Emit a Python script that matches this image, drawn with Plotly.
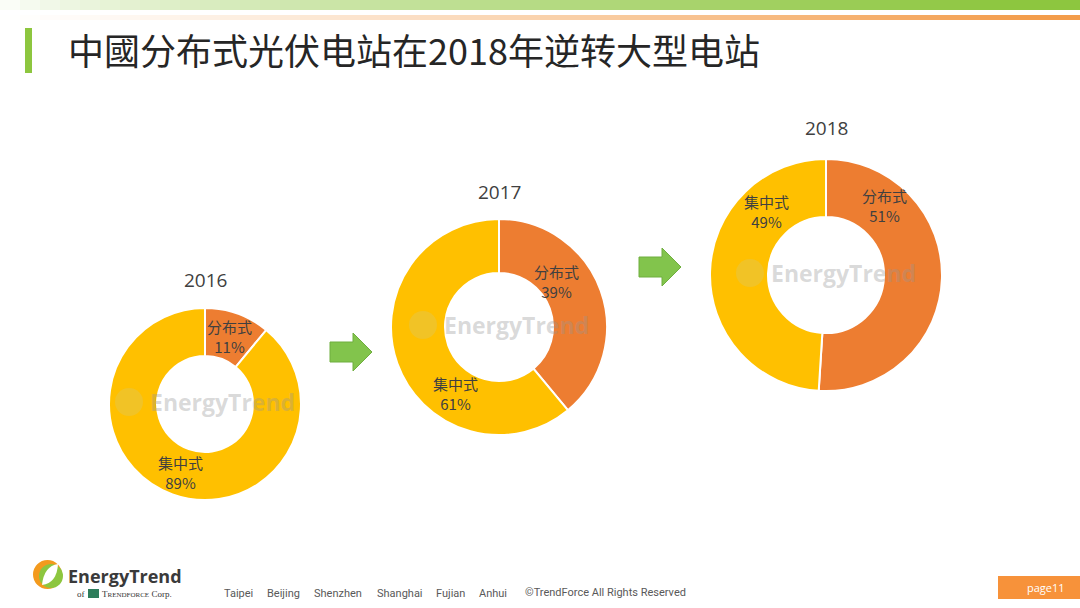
import plotly.graph_objects as go

# ---------------- data ----------------
years = ["2016", "2017", "2018"]
share_distributed = [11, 39, 51]   # 分布式
share_central = [89, 61, 49]       # 集中式
slice_labels = ["分布式", "集中式"]
slice_colors = ["#ED7D31", "#FFC000"]
title_text = "中國分布式光伏电站在2018年逆转大型电站"
cities = ["Taipei", "Beijing", "Shenzhen", "Shanghai", "Fujian", "Anhui"]

# ---------------- layout helpers (pixels) ----------------
W, H = 1080, 608
def px(x): return x / W
def py(y): return 1 - y / H

# donut geometry in pixels: centre x, centre y, outer radius
donut_geom = [(205, 404, 96), (499, 327, 108), (826, 275, 116)]
hole = 0.5
title_offset = [124, 135, 147]
# label placement (offset from donut centre, pixels) for [分布式, 集中式]
label_offsets = [[(24, -68), (-25, 68)],
                 [(57, -46), (-44, 66)],
                 [(58, -70), (-60, -64)]]
city_x = [222, 265, 312, 375, 434, 477]

fig = go.Figure()
annotations = []
shapes = []

for i, yr in enumerate(years):
    cx, cy, r = donut_geom[i]
    vals = [share_distributed[i], share_central[i]]
    fig.add_trace(go.Pie(
        values=vals, labels=slice_labels, sort=False, direction="clockwise",
        rotation=0, hole=hole, textinfo="none", hoverinfo="label+percent",
        marker=dict(colors=slice_colors, line=dict(color="white", width=2)),
        domain=dict(x=[px(cx - r), px(cx + r)], y=[py(cy + r), py(cy - r)]),
        showlegend=False,
    ))
    # watermark
    annotations.append(dict(
        x=px(cx + 17), y=py(cy - 2), xref="paper", yref="paper", showarrow=False,
        text="<b>EnergyTrend</b>", xanchor="center", yanchor="middle",
        font=dict(family="Open Sans", size=23, color="rgba(150,150,150,0.36)"),
    ))
    shapes.append(dict(
        type="circle", xref="paper", yref="paper",
        x0=px(cx - 90), x1=px(cx - 62), y0=py(cy + 12), y1=py(cy - 16),
        fillcolor="rgba(215,200,110,0.35)", line=dict(width=0), layer="above",
    ))
    # data labels
    total = sum(vals)
    for lab, v, (dx, dy) in zip(slice_labels, vals, label_offsets[i]):
        annotations.append(dict(
            x=px(cx + dx), y=py(cy + dy), xref="paper", yref="paper", showarrow=False,
            text=f"{lab}<br>{round(v / total * 100)}%", align="center",
            font=dict(family="Noto Sans CJK SC", size=15, color="#404040"),
            xanchor="center", yanchor="middle",
        ))
    # year title
    annotations.append(dict(
        x=px(cx), y=py(cy - title_offset[i]), xref="paper", yref="paper",
        showarrow=False, text=yr, xanchor="center", yanchor="middle",
        font=dict(family="Open Sans", size=19, color="#404040"),
    ))

# ---------------- arrows ----------------
arrow_pos = [(351, 352), (660, 267)]
arrow_pts = [(-21, -10), (2, -10), (2, -19), (21, 0), (2, 19), (2, 10), (-21, 10)]
for ax, ay in arrow_pos:
    path = "M " + " L ".join(f"{px(ax + dx)},{py(ay + dy)}" for dx, dy in arrow_pts) + " Z"
    shapes.append(dict(type="path", xref="paper", yref="paper", path=path,
                       fillcolor="#82C44C", line=dict(color="#6FAE3E", width=1)))

# ---------------- top gradient stripes ----------------
def mix(c, t):
    return "rgb(%d,%d,%d)" % tuple(round(255 + (ch - 255) * t) for ch in c)

n = 54
for k in range(n):
    x0, x1 = k * W / n, (k + 1) * W / n + 0.5
    t = (k + 0.5) / n
    shapes.append(dict(type="rect", xref="paper", yref="paper",
                       x0=px(x0), x1=px(x1), y0=py(10), y1=py(0),
                       fillcolor=mix((141, 198, 63), min(1, t ** 0.7 * 1.05)),
                       line=dict(width=0)))
    shapes.append(dict(type="rect", xref="paper", yref="paper",
                       x0=px(x0), x1=px(x1), y0=py(20), y1=py(15),
                       fillcolor=mix((243, 156, 74), min(1, t ** 1.2 * 1.05)),
                       line=dict(width=0)))

# left green bar
shapes.append(dict(type="rect", xref="paper", yref="paper",
                   x0=px(25), x1=px(32), y0=py(73), y1=py(28),
                   fillcolor="#8DC63F", line=dict(width=0)))

# title
annotations.append(dict(
    x=px(66), y=py(49), xref="paper", yref="paper", showarrow=False,
    text=title_text, xanchor="left", yanchor="middle",
    font=dict(family="Noto Sans CJK SC", size=36, color="#262626"),
))

# ---------------- footer ----------------
shapes.append(dict(type="circle", xref="paper", yref="paper",
                   x0=px(33), x1=px(62), y0=py(589), y1=py(560),
                   fillcolor="#F39A1E", line=dict(width=0)))
shapes.append(dict(type="circle", xref="paper", yref="paper",
                   x0=px(39), x1=px(63), y0=py(588), y1=py(564),
                   fillcolor="#8DC63F", line=dict(width=0)))
shapes.append(dict(type="path", xref="paper", yref="paper",
                   path=f"M {px(42)},{py(585)} Q {px(44)},{py(566)} {px(58)},{py(564)} "
                        f"Q {px(57)},{py(583)} {px(42)},{py(585)} Z",
                   fillcolor="white", line=dict(width=0)))
annotations.append(dict(
    x=px(66), y=py(576), xref="paper", yref="paper", showarrow=False,
    text="<b>EnergyTrend</b>", xanchor="left", yanchor="middle",
    font=dict(family="Open Sans", size=18, color="#3A3A3A"),
))
shapes.append(dict(type="rect", xref="paper", yref="paper",
                   x0=px(88), x1=px(99), y0=py(598), y1=py(589),
                   fillcolor="#2E7D5B", line=dict(width=0)))
annotations.append(dict(
    x=px(75), y=py(594), xref="paper", yref="paper", showarrow=False,
    text="of", xanchor="left", yanchor="middle",
    font=dict(family="Liberation Serif", size=9, color="#333333"),
))
annotations.append(dict(
    x=px(100), y=py(594), xref="paper", yref="paper", showarrow=False,
    text="T<span style='font-size:7px'>RENDFORCE</span> Corp.", xanchor="left", yanchor="middle",
    font=dict(family="Liberation Serif", size=9, color="#333333"),
))
for cx_, c in zip(city_x, cities):
    annotations.append(dict(
        x=px(cx_), y=py(593), xref="paper", yref="paper", showarrow=False,
        text=c, xanchor="left", yanchor="middle",
        font=dict(family="Liberation Sans Narrow, Roboto", size=11, color="#595959"),
    ))
annotations.append(dict(
    x=px(523), y=py(592), xref="paper", yref="paper", showarrow=False,
    text="©TrendForce All Rights Reserved", xanchor="left", yanchor="middle",
    font=dict(family="Liberation Sans Narrow, Roboto", size=11, color="#595959"),
))
shapes.append(dict(type="rect", xref="paper", yref="paper",
                   x0=px(998), x1=px(1080), y0=py(599), y1=py(576),
                   fillcolor="#F7923A", line=dict(width=0)))
annotations.append(dict(
    x=px(1046), y=py(587.5), xref="paper", yref="paper", showarrow=False,
    text="page11", xanchor="center", yanchor="middle",
    font=dict(family="Open Sans", size=11, color="white"),
))

fig.update_layout(
    width=W, height=H, margin=dict(l=0, r=0, t=0, b=0),
    paper_bgcolor="white", plot_bgcolor="white",
    showlegend=False, annotations=annotations, shapes=shapes,
)
fig.write_html("out.html")
